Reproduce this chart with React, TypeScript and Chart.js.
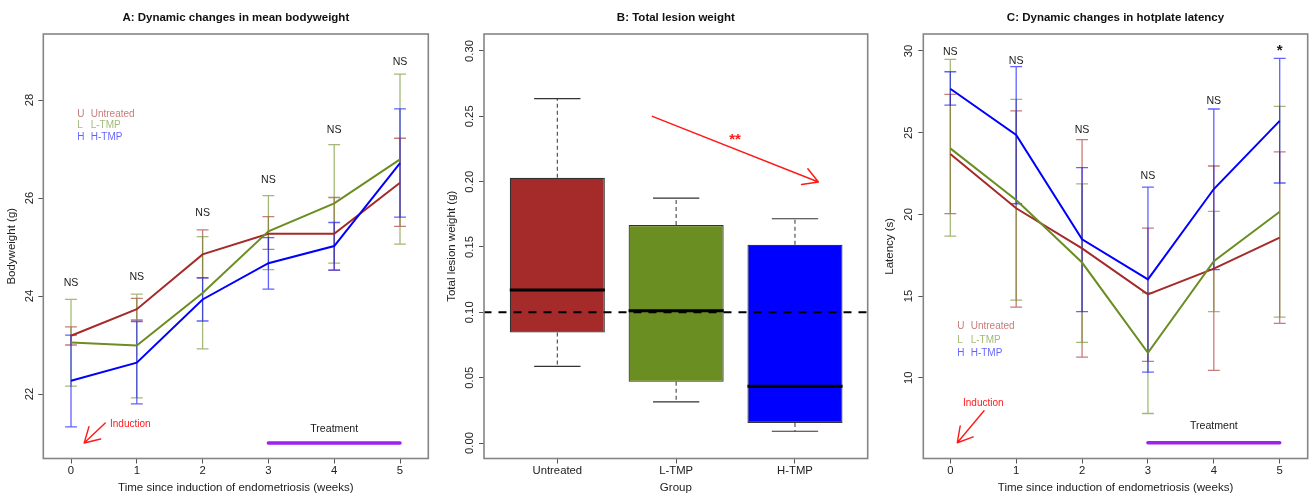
import React, { useEffect, useRef } from "react";
import { Chart, registerables } from "chart.js";

Chart.register(...registerables);

// ---------------- data ----------------
const weeks = [0, 1, 2, 3, 4, 5];
const groupNames = ["Untreated", "L-TMP", "H-TMP"];
const groupCodes = ["U", "L", "H"];

// Panel A: bodyweight (g)
const bwUntreatedMean = [23.19, 23.73, 24.85, 25.27, 25.27, 26.31];
const bwUntreatedUpper = [23.37, 23.95, 25.35, 25.62, 26.01, 27.22];
const bwUntreatedLower = [23.0, 23.51, 24.37, 24.95, 24.53, 25.42];
const bwLTmpMean = [23.05, 22.99, 24.06, 25.32, 25.89, 26.79];
const bwLTmpUpper = [23.93, 24.04, 25.21, 26.05, 27.09, 28.53];
const bwLTmpLower = [22.16, 21.92, 22.92, 24.54, 24.67, 25.06];
const bwHTmpMean = [22.27, 22.64, 23.93, 24.67, 25.02, 26.71];
const bwHTmpUpper = [23.2, 23.48, 24.37, 25.19, 25.5, 27.82];
const bwHTmpLower = [21.33, 21.8, 23.49, 24.14, 24.53, 25.61];
const bwTicks = [22, 24, 26, 28];
const bwSignif = ["NS", "NS", "NS", "NS", "NS", "NS"];
const bwSignifY = [24.27, 24.38, 25.69, 26.37, 27.39, 28.77];
const bwInductionArrow = [0.52, 21.41, 0.2, 21.0];
const bwInductionLabel = [0.593, 21.38];
const bwTreatmentY = [21.0, 21.29];
const bwLegendAt = [0.096, 27.714];

// Panel B: total lesion weight (g)
const lesionLowWhisker = [0.0586, 0.0315, 0.009];
const lesionQ1 = [0.0846, 0.0468, 0.0154];
const lesionMedian = [0.117, 0.1012, 0.0435];
const lesionQ3 = [0.203, 0.1668, 0.1517];
const lesionHighWhisker = [0.2635, 0.1874, 0.1716];
const lesionRefLine = [0.1];
const lesionTicks = [0, 0.05, 0.1, 0.15, 0.2, 0.25, 0.3];
const lesionArrow = [0.8, 0.25, 2.197, 0.1997];
const lesionStarsAt = [1.496, 0.232];

// Panel C: hotplate latency (s)
const latUntreatedMean = [23.69, 20.37, 17.92, 15.1, 16.68, 18.58];
const latUntreatedUpper = [27.35, 26.34, 24.57, 19.16, 22.96, 23.83];
const latUntreatedLower = [20.04, 14.32, 11.26, 11.0, 10.45, 13.33];
const latLTmpMean = [24.04, 20.88, 17.05, 11.52, 17.13, 20.16];
const latLTmpUpper = [29.49, 27.04, 21.87, 15.2, 20.18, 26.61];
const latLTmpLower = [18.67, 14.75, 12.16, 7.81, 14.04, 13.71];
const latHTmpMean = [27.69, 24.86, 18.47, 16.02, 21.55, 25.72];
const latHTmpUpper = [28.73, 29.04, 22.86, 21.67, 26.45, 29.55];
const latHTmpLower = [26.69, 20.65, 14.04, 10.34, 16.61, 21.92];
const latTicks = [10, 15, 20, 25, 30];
const latSignif = ["NS", "NS", "NS", "NS", "NS", "*"];
const latSignifY = [29.92, 29.41, 25.14, 22.35, 26.94, 30.0];
const latInductionArrow = [0.512, 7.98, 0.106, 6.02];
const latInductionLabel = [0.193, 8.43];
const latTreatmentY = [6.02, 7.04];
const latLegendAt = [0.106, 13.12];

const treatmentWeeks = [3, 5];

// ---------------- styles ----------------
const FONT = "'Liberation Sans', Arial, Helvetica, sans-serif";
const COLORS = ["#A52A2A", "#6B8E23", "#0000FF"];
const COLORS_SOFT = ["rgba(165,42,42,0.62)", "rgba(107,142,35,0.62)", "rgba(0,0,255,0.62)"];
const TREAT_COLOR = "#A020F0";
const NOTE_RED = "#FF1A1A";
const H = 497;

function errorBarPoints(xs: number[], lower: number[], upper: number[], cap: number) {
  const pts: any[] = [];
  xs.forEach((x, i) => {
    pts.push({ x, y: lower[i] }, { x, y: upper[i] }, { x, y: null });
    pts.push({ x: x - cap, y: upper[i] }, { x: x + cap, y: upper[i] }, { x, y: null });
    pts.push({ x: x - cap, y: lower[i] }, { x: x + cap, y: lower[i] }, { x, y: null });
  });
  return pts;
}

function xAxis(min: number, max: number, tickValues: number[], title: string, fmt?: (v: number) => string) {
  return {
    type: "linear",
    min,
    max,
    offset: false,
    afterBuildTicks: (s: any) => {
      s.ticks = tickValues.map((v) => ({ value: v }));
    },
    afterFit: (s: any) => {
      s.height = 38.5;
    },
    grid: { display: true, drawOnChartArea: false, drawTicks: true, tickLength: 5, color: "#555", lineWidth: 1, offset: false },
    border: { display: false },
    ticks: {
      autoSkip: false,
      minRotation: 0,
      maxRotation: 0,
      padding: 1,
      color: "#222",
      font: { family: FONT, size: 11.3 },
      callback: (v: number) => (fmt ? fmt(v) : String(v)),
    },
    title: { display: true, text: title, color: "#222", font: { family: FONT, size: 11.5 }, padding: { top: 0, bottom: 1.8 } },
  };
}

function yAxis(
  min: number,
  max: number,
  tickValues: number[],
  title: string,
  width: number,
  tickPad: number,
  titlePad: number,
  fmt?: (v: number) => string
) {
  return {
    type: "linear",
    min,
    max,
    afterBuildTicks: (s: any) => {
      s.ticks = tickValues.map((v) => ({ value: v }));
    },
    afterFit: (s: any) => {
      s.width = width;
    },
    grid: { display: true, drawOnChartArea: false, drawTicks: true, tickLength: 5, color: "#555", lineWidth: 1 },
    border: { display: false },
    ticks: {
      autoSkip: false,
      minRotation: 90,
      maxRotation: 90,
      crossAlign: "center",
      padding: tickPad,
      color: "#222",
      font: { family: FONT, size: 11.3 },
      callback: (v: number) => (fmt ? fmt(v) : String(v)),
    },
    title: { display: true, text: title, color: "#222", font: { family: FONT, size: 11.5 }, padding: { top: titlePad, bottom: 0 } },
  };
}

function mainTitle(text: string) {
  return {
    display: true,
    text,
    fullSize: false,
    color: "#111",
    font: { family: FONT, size: 11.5, weight: "bold" },
    padding: { top: 11.1, bottom: 9.1 },
  };
}

type Note = { x: number; y: number; text: string; color: string; size: number; bold?: boolean; align?: CanvasTextAlign };
type Arrow = { x0: number; y0: number; x1: number; y1: number; color: string; width: number; head: number };
type Legend = { x: number; y: number; rowGap: number; textGap: number; size: number };

function decorPlugin(cfg: { texts?: Note[]; arrows?: Arrow[]; legend?: Legend }) {
  return {
    id: "decor",
    afterDatasetsDraw(chart: any) {
      const { ctx } = chart;
      const xs = chart.scales.x;
      const ys = chart.scales.y;
      ctx.save();
      for (const a of cfg.arrows ?? []) {
        const px0 = xs.getPixelForValue(a.x0);
        const py0 = ys.getPixelForValue(a.y0);
        const px1 = xs.getPixelForValue(a.x1);
        const py1 = ys.getPixelForValue(a.y1);
        ctx.strokeStyle = a.color;
        ctx.lineWidth = a.width;
        ctx.lineCap = "round";
        ctx.beginPath();
        ctx.moveTo(px0, py0);
        ctx.lineTo(px1, py1);
        const ang = Math.atan2(py1 - py0, px1 - px0);
        for (const s of [1, -1]) {
          ctx.moveTo(px1, py1);
          ctx.lineTo(px1 - a.head * Math.cos(ang + (s * Math.PI) / 6), py1 - a.head * Math.sin(ang + (s * Math.PI) / 6));
        }
        ctx.stroke();
      }
      ctx.textBaseline = "middle";
      for (const t of cfg.texts ?? []) {
        ctx.font = `${t.bold ? "bold " : ""}${t.size}px ${FONT}`;
        ctx.fillStyle = t.color;
        ctx.textAlign = t.align ?? "center";
        ctx.fillText(t.text, xs.getPixelForValue(t.x), ys.getPixelForValue(t.y));
      }
      if (cfg.legend) {
        const lg = cfg.legend;
        ctx.font = `${lg.size}px ${FONT}`;
        ctx.textAlign = "left";
        const px = xs.getPixelForValue(lg.x);
        const py = ys.getPixelForValue(lg.y);
        groupNames.forEach((name, i) => {
          ctx.fillStyle = COLORS_SOFT[i];
          ctx.fillText(groupCodes[i], px, py + i * lg.rowGap);
          ctx.fillText(name, px + lg.textGap, py + i * lg.rowGap);
        });
      }
      ctx.restore();
    },
    afterDraw(chart: any) {
      const { ctx, chartArea: a } = chart;
      ctx.save();
      ctx.strokeStyle = "#858585";
      ctx.lineWidth = 1.6;
      ctx.strokeRect(a.left, a.top, a.right - a.left, a.bottom - a.top);
      ctx.restore();
    },
  };
}

function timeCourseConfig(p: {
  title: string;
  yTitle: string;
  means: number[][];
  uppers: number[][];
  lowers: number[][];
  yMin: number;
  yMax: number;
  yTicks: number[];
  xMin: number;
  xMax: number;
  yWidth: number;
  yTickPad: number;
  yTitlePad: number;
  padRight: number;
  signif: string[];
  signifY: number[];
  arrow: number[];
  inductionLabel: number[];
  treatmentY: number[];
  legendAt: number[];
  legendGap: number;
}) {
  const lineSets = [2, 1, 0].map((g) => ({
    type: "line",
    data: weeks.map((t, i) => ({ x: t, y: p.means[g][i] })),
    borderColor: COLORS[g],
    borderWidth: 2,
    pointRadius: 0,
    tension: 0,
    fill: false,
  }));
  const errSets = [2, 1, 0].map((g) => ({
    type: "line",
    data: errorBarPoints(weeks, p.lowers[g], p.uppers[g], 0.09),
    borderColor: COLORS_SOFT[g],
    borderWidth: 1.3,
    pointRadius: 0,
    spanGaps: false,
    tension: 0,
    fill: false,
  }));
  const treatSet = {
    type: "line",
    data: treatmentWeeks.map((t) => ({ x: t, y: p.treatmentY[0] })),
    borderColor: TREAT_COLOR,
    borderWidth: 3.5,
    borderCapStyle: "round",
    pointRadius: 0,
    fill: false,
  };
  const texts: Note[] = weeks.map((t, i) => ({
    x: t,
    y: p.signifY[i],
    text: p.signif[i],
    color: "#1a1a1a",
    size: p.signif[i] === "*" ? 15 : 10.6,
    bold: p.signif[i] === "*",
  }));
  texts.push({ x: p.inductionLabel[0], y: p.inductionLabel[1], text: "Induction", color: NOTE_RED, size: 10, align: "left" });
  texts.push({
    x: (treatmentWeeks[0] + treatmentWeeks[1]) / 2,
    y: p.treatmentY[1],
    text: "Treatment",
    color: "#1a1a1a",
    size: 10.6,
  });
  return {
    type: "line",
    data: { datasets: [...lineSets, ...errSets, treatSet] },
    options: {
      responsive: false,
      maintainAspectRatio: false,
      animation: false,
      events: [],
      layout: { padding: { left: 0, right: p.padRight, top: 0, bottom: 0 } },
      plugins: { legend: { display: false }, tooltip: { enabled: false }, title: mainTitle(p.title) },
      scales: {
        x: xAxis(p.xMin, p.xMax, weeks, "Time since induction of endometriosis (weeks)"),
        y: yAxis(p.yMin, p.yMax, p.yTicks, p.yTitle, p.yWidth, p.yTickPad, p.yTitlePad),
      },
    },
    plugins: [
      decorPlugin({
        texts,
        arrows: [{ x0: p.arrow[0], y0: p.arrow[1], x1: p.arrow[2], y1: p.arrow[3], color: NOTE_RED, width: 1.4, head: 17 }],
        legend: { x: p.legendAt[0], y: p.legendAt[1], rowGap: p.legendGap, textGap: 13.4, size: 10 },
      }),
    ],
  };
}

function configA() {
  return timeCourseConfig({
    title: "A: Dynamic changes in mean bodyweight",
    yTitle: "Bodyweight (g)",
    means: [bwUntreatedMean, bwLTmpMean, bwHTmpMean],
    uppers: [bwUntreatedUpper, bwLTmpUpper, bwHTmpUpper],
    lowers: [bwUntreatedLower, bwLTmpLower, bwHTmpLower],
    yMin: 20.684,
    yMax: 29.347,
    yTicks: bwTicks,
    xMin: -0.421,
    xMax: 5.43,
    yWidth: 43.3,
    yTickPad: 2.0,
    yTitlePad: 5.1,
    padRight: 7.7,
    signif: bwSignif,
    signifY: bwSignifY,
    arrow: bwInductionArrow,
    inductionLabel: bwInductionLabel,
    treatmentY: bwTreatmentY,
    legendAt: bwLegendAt,
    legendGap: 11.6,
  });
}

function configC() {
  return timeCourseConfig({
    title: "C: Dynamic changes in hotplate latency",
    yTitle: "Latency (s)",
    means: [latUntreatedMean, latLTmpMean, latHTmpMean],
    uppers: [latUntreatedUpper, latLTmpUpper, latHTmpUpper],
    lowers: [latUntreatedLower, latLTmpLower, latHTmpLower],
    yMin: 5.054,
    yMax: 31.04,
    yTicks: latTicks,
    xMin: -0.41,
    xMax: 5.425,
    yWidth: 51.3,
    yTickPad: 3.2,
    yTitlePad: 11.1,
    padRight: 2.3,
    signif: latSignif,
    signifY: latSignifY,
    arrow: latInductionArrow,
    inductionLabel: latInductionLabel,
    treatmentY: latTreatmentY,
    legendAt: latLegendAt,
    legendGap: 13.3,
  });
}

function configB() {
  const idx = groupNames.map((_, i) => i);
  const refSet = {
    type: "line",
    data: [
      { x: -1, y: lesionRefLine[0] },
      { x: 4, y: lesionRefLine[0] },
    ],
    borderColor: "#000",
    borderWidth: 2,
    borderDash: [8, 7],
    pointRadius: 0,
    fill: false,
  };
  const medianSet = {
    type: "line",
    data: idx.flatMap((i) => [
      { x: i - 0.4, y: lesionMedian[i] },
      { x: i + 0.4, y: lesionMedian[i] },
      { x: i, y: null },
    ]),
    borderColor: "#000",
    borderWidth: 3,
    pointRadius: 0,
    spanGaps: false,
    fill: false,
  };
  const capSet = {
    type: "line",
    data: idx.flatMap((i) => [
      { x: i - 0.195, y: lesionHighWhisker[i] },
      { x: i + 0.195, y: lesionHighWhisker[i] },
      { x: i, y: null },
      { x: i - 0.195, y: lesionLowWhisker[i] },
      { x: i + 0.195, y: lesionLowWhisker[i] },
      { x: i, y: null },
    ]),
    borderColor: "#333",
    borderWidth: 1.2,
    pointRadius: 0,
    spanGaps: false,
    fill: false,
  };
  const whiskerSet = {
    type: "line",
    data: idx.flatMap((i) => [
      { x: i, y: lesionQ3[i] },
      { x: i, y: lesionHighWhisker[i] },
      { x: i, y: null },
      { x: i, y: lesionQ1[i] },
      { x: i, y: lesionLowWhisker[i] },
      { x: i, y: null },
    ]),
    borderColor: "#444",
    borderWidth: 1.1,
    borderDash: [4, 3],
    pointRadius: 0,
    spanGaps: false,
    fill: false,
  };
  const boxSet = {
    type: "bar",
    data: idx.map((i) => ({ x: i, y: [lesionQ1[i], lesionQ3[i]] })),
    backgroundColor: COLORS,
    borderColor: "#333",
    borderWidth: 1.2,
    borderSkipped: false,
    barPercentage: 1,
    categoryPercentage: 0.8,
  };
  return {
    type: "bar",
    data: { datasets: [refSet, medianSet, capSet, whiskerSet, boxSet] },
    options: {
      responsive: false,
      maintainAspectRatio: false,
      animation: false,
      events: [],
      layout: { padding: { left: 0, right: 4.3, top: 0, bottom: 0 } },
      plugins: { legend: { display: false }, tooltip: { enabled: false }, title: mainTitle("B: Total lesion weight") },
      scales: {
        x: xAxis(-0.617, 2.612, idx, "Group", (v) => groupNames[Math.round(v)] ?? ""),
        y: yAxis(-0.01186, 0.313, lesionTicks, "Total lesion weight (g)", 48, -2.2, 8.6, (v) => v.toFixed(2)),
      },
    },
    plugins: [
      decorPlugin({
        texts: [{ x: lesionStarsAt[0], y: lesionStarsAt[1], text: "**", color: NOTE_RED, size: 15, bold: true }],
        arrows: [
          { x0: lesionArrow[0], y0: lesionArrow[1], x1: lesionArrow[2], y1: lesionArrow[3], color: NOTE_RED, width: 1.5, head: 17 },
        ],
      }),
    ],
  };
}

function Panel({ left, width, build }: { left: number; width: number; build: () => any }) {
  const ref = useRef<HTMLCanvasElement>(null);
  useEffect(() => {
    const chart = new Chart(ref.current as HTMLCanvasElement, build());
    return () => chart.destroy();
  }, []);
  return (
    <canvas
      ref={ref}
      width={width}
      height={H}
      style={{ position: "absolute", left, top: 0, width, height: H, display: "block" }}
    />
  );
}

export default function App() {
  return (
    <div style={{ position: "absolute", left: 0, top: 0, width: 1310, height: H, background: "#fff", overflow: "hidden" }}>
      <Panel left={0} width={436} build={configA} />
      <Panel left={436} width={436} build={configB} />
      <Panel left={872} width={438} build={configC} />
    </div>
  );
}
